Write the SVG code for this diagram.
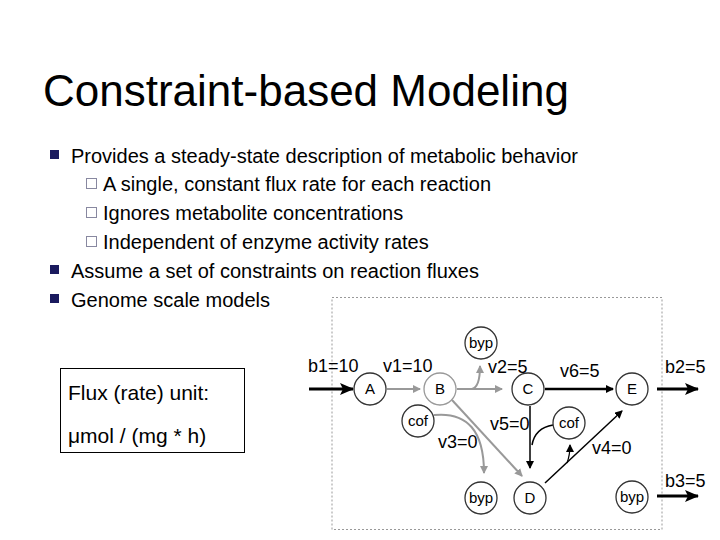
<svg xmlns="http://www.w3.org/2000/svg" width="720" height="540" viewBox="0 0 720 540">
<defs>
<style>
text{font-family:"Liberation Sans",Arial,sans-serif;fill:#000}
.b{font-size:20px}
.f{font-size:21px}
.d{font-size:18px}
.n circle{fill:#fff;stroke:#333;stroke-width:1.3}
.n text{font-size:15px;text-anchor:middle}
.k{stroke:#000;fill:none}
.g{stroke:#999;fill:none;stroke-width:2}
</style>
<marker id="ak" markerWidth="8" markerHeight="8" refX="7" refY="4" orient="auto" markerUnits="userSpaceOnUse"><path d="M0,0L8,4L0,8z" fill="#000"/></marker>
<marker id="ag" markerWidth="8" markerHeight="8" refX="7" refY="4" orient="auto" markerUnits="userSpaceOnUse"><path d="M0,0L8,4L0,8z" fill="#999"/></marker>
<marker id="aK" markerWidth="14" markerHeight="12" refX="13" refY="6" orient="auto" markerUnits="userSpaceOnUse"><path d="M0,0L14,6L0,12L3,6z" fill="#000"/></marker>
</defs>
<rect width="720" height="540" fill="#fff"/>
<text x="43" y="106" style="font-size:44px">Constraint-based Modeling</text>
<g fill="#1a1a5e"><rect x="50" y="150" width="9" height="9"/><rect x="50" y="265" width="9" height="9"/><rect x="50" y="294" width="9" height="9"/></g>
<g fill="none" stroke="#8888a0"><rect x="86.5" y="178.5" width="10" height="10"/><rect x="86.5" y="207.5" width="10" height="10"/><rect x="86.5" y="236.5" width="10" height="10"/></g>
<text class="b" x="71" y="163">Provides a steady-state description of metabolic behavior</text>
<text class="b" x="103" y="191">A single, constant flux rate for each reaction</text>
<text class="b" x="103" y="220">Ignores metabolite concentrations</text>
<text class="b" x="103" y="249">Independent of enzyme activity rates</text>
<text class="b" x="71" y="278">Assume a set of constraints on reaction fluxes</text>
<text class="b" x="71" y="307">Genome scale models</text>
<g id="fluxbox"><rect x="60.5" y="368.5" width="184" height="84" fill="#fff" stroke="#000"/>
<text class="f" x="68" y="400">Flux (rate) unit:</text><text class="f" x="68" y="443">μmol / (mg * h)</text></g>
<rect x="332" y="297.5" width="330" height="232" fill="none" stroke="#999" stroke-dasharray="2,2"/>
<g id="connectors">
<line class="k" x1="309" y1="389" x2="353" y2="389" stroke-width="3" marker-end="url(#aK)"/>
<line class="g" x1="387" y1="389" x2="420" y2="389" marker-end="url(#ag)"/>
<line class="g" x1="457" y1="389" x2="502" y2="389" marker-end="url(#ag)"/>
<path class="g" d="M472,389 Q480,387 480,366" marker-end="url(#ag)"/>
<line class="k" x1="545" y1="389" x2="613" y2="389" stroke-width="2.5" marker-end="url(#ak)"/>
<line class="k" x1="530" y1="406" x2="530" y2="468" stroke-width="1.5" marker-end="url(#ak)"/>
<path class="k" d="M553,425 Q535,428 532,445" stroke-width="1.5"/>
<line class="g" x1="452" y1="400" x2="522" y2="476" marker-end="url(#ag)"/>
<path class="g" d="M434,415 Q484,410 484,473" marker-end="url(#ag)"/>
<line class="k" x1="545" y1="483" x2="622" y2="411" stroke-width="1.5" marker-end="url(#ak)"/>
<path class="k" d="M567,463 Q570,455 570,445" stroke-width="1.2" marker-end="url(#ak)"/>
<line class="k" x1="657" y1="389" x2="698" y2="389" stroke-width="3" marker-end="url(#aK)"/>
<line class="k" x1="657" y1="496" x2="698" y2="496" stroke-width="3" marker-end="url(#aK)"/>
</g>
<g id="nA" class="n"><circle cx="370" cy="389" r="16"/><text x="370" y="394">A</text></g>
<g id="nB" class="n"><circle cx="440" cy="389" r="16" style="stroke:#999"/><text x="440" y="394">B</text></g>
<g id="nC" class="n"><circle cx="528" cy="389" r="16"/><text x="528" y="394">C</text></g>
<g id="nE" class="n"><circle cx="632" cy="389" r="16"/><text x="632" y="394">E</text></g>
<g id="nD" class="n"><circle cx="530" cy="498" r="16"/><text x="530" y="503">D</text></g>
<g id="byp1" class="n"><circle cx="481" cy="343" r="16"/><text x="481" y="348">byp</text></g>
<g id="byp2" class="n"><circle cx="481" cy="498" r="16"/><text x="481" y="503">byp</text></g>
<g id="byp3" class="n"><circle cx="632" cy="497" r="16"/><text x="632" y="502">byp</text></g>
<g id="cof1" class="n"><circle cx="418" cy="421" r="16"/><text x="418" y="426">cof</text></g>
<g id="cof2" class="n"><circle cx="569" cy="423" r="16"/><text x="569" y="428">cof</text></g>
<g>
<text class="d" x="308" y="372">b1=10</text>
<text class="d" x="383" y="372">v1=10</text>
<text class="d" x="488" y="373">v2=5</text>
<text class="d" x="560" y="377">v6=5</text>
<text class="d" x="665" y="373">b2=5</text>
<text class="d" x="490" y="430">v5=0</text>
<text class="d" x="438" y="448">v3=0</text>
<text class="d" x="592" y="454">v4=0</text>
<text class="d" x="665" y="487">b3=5</text>
</g>
</svg>
